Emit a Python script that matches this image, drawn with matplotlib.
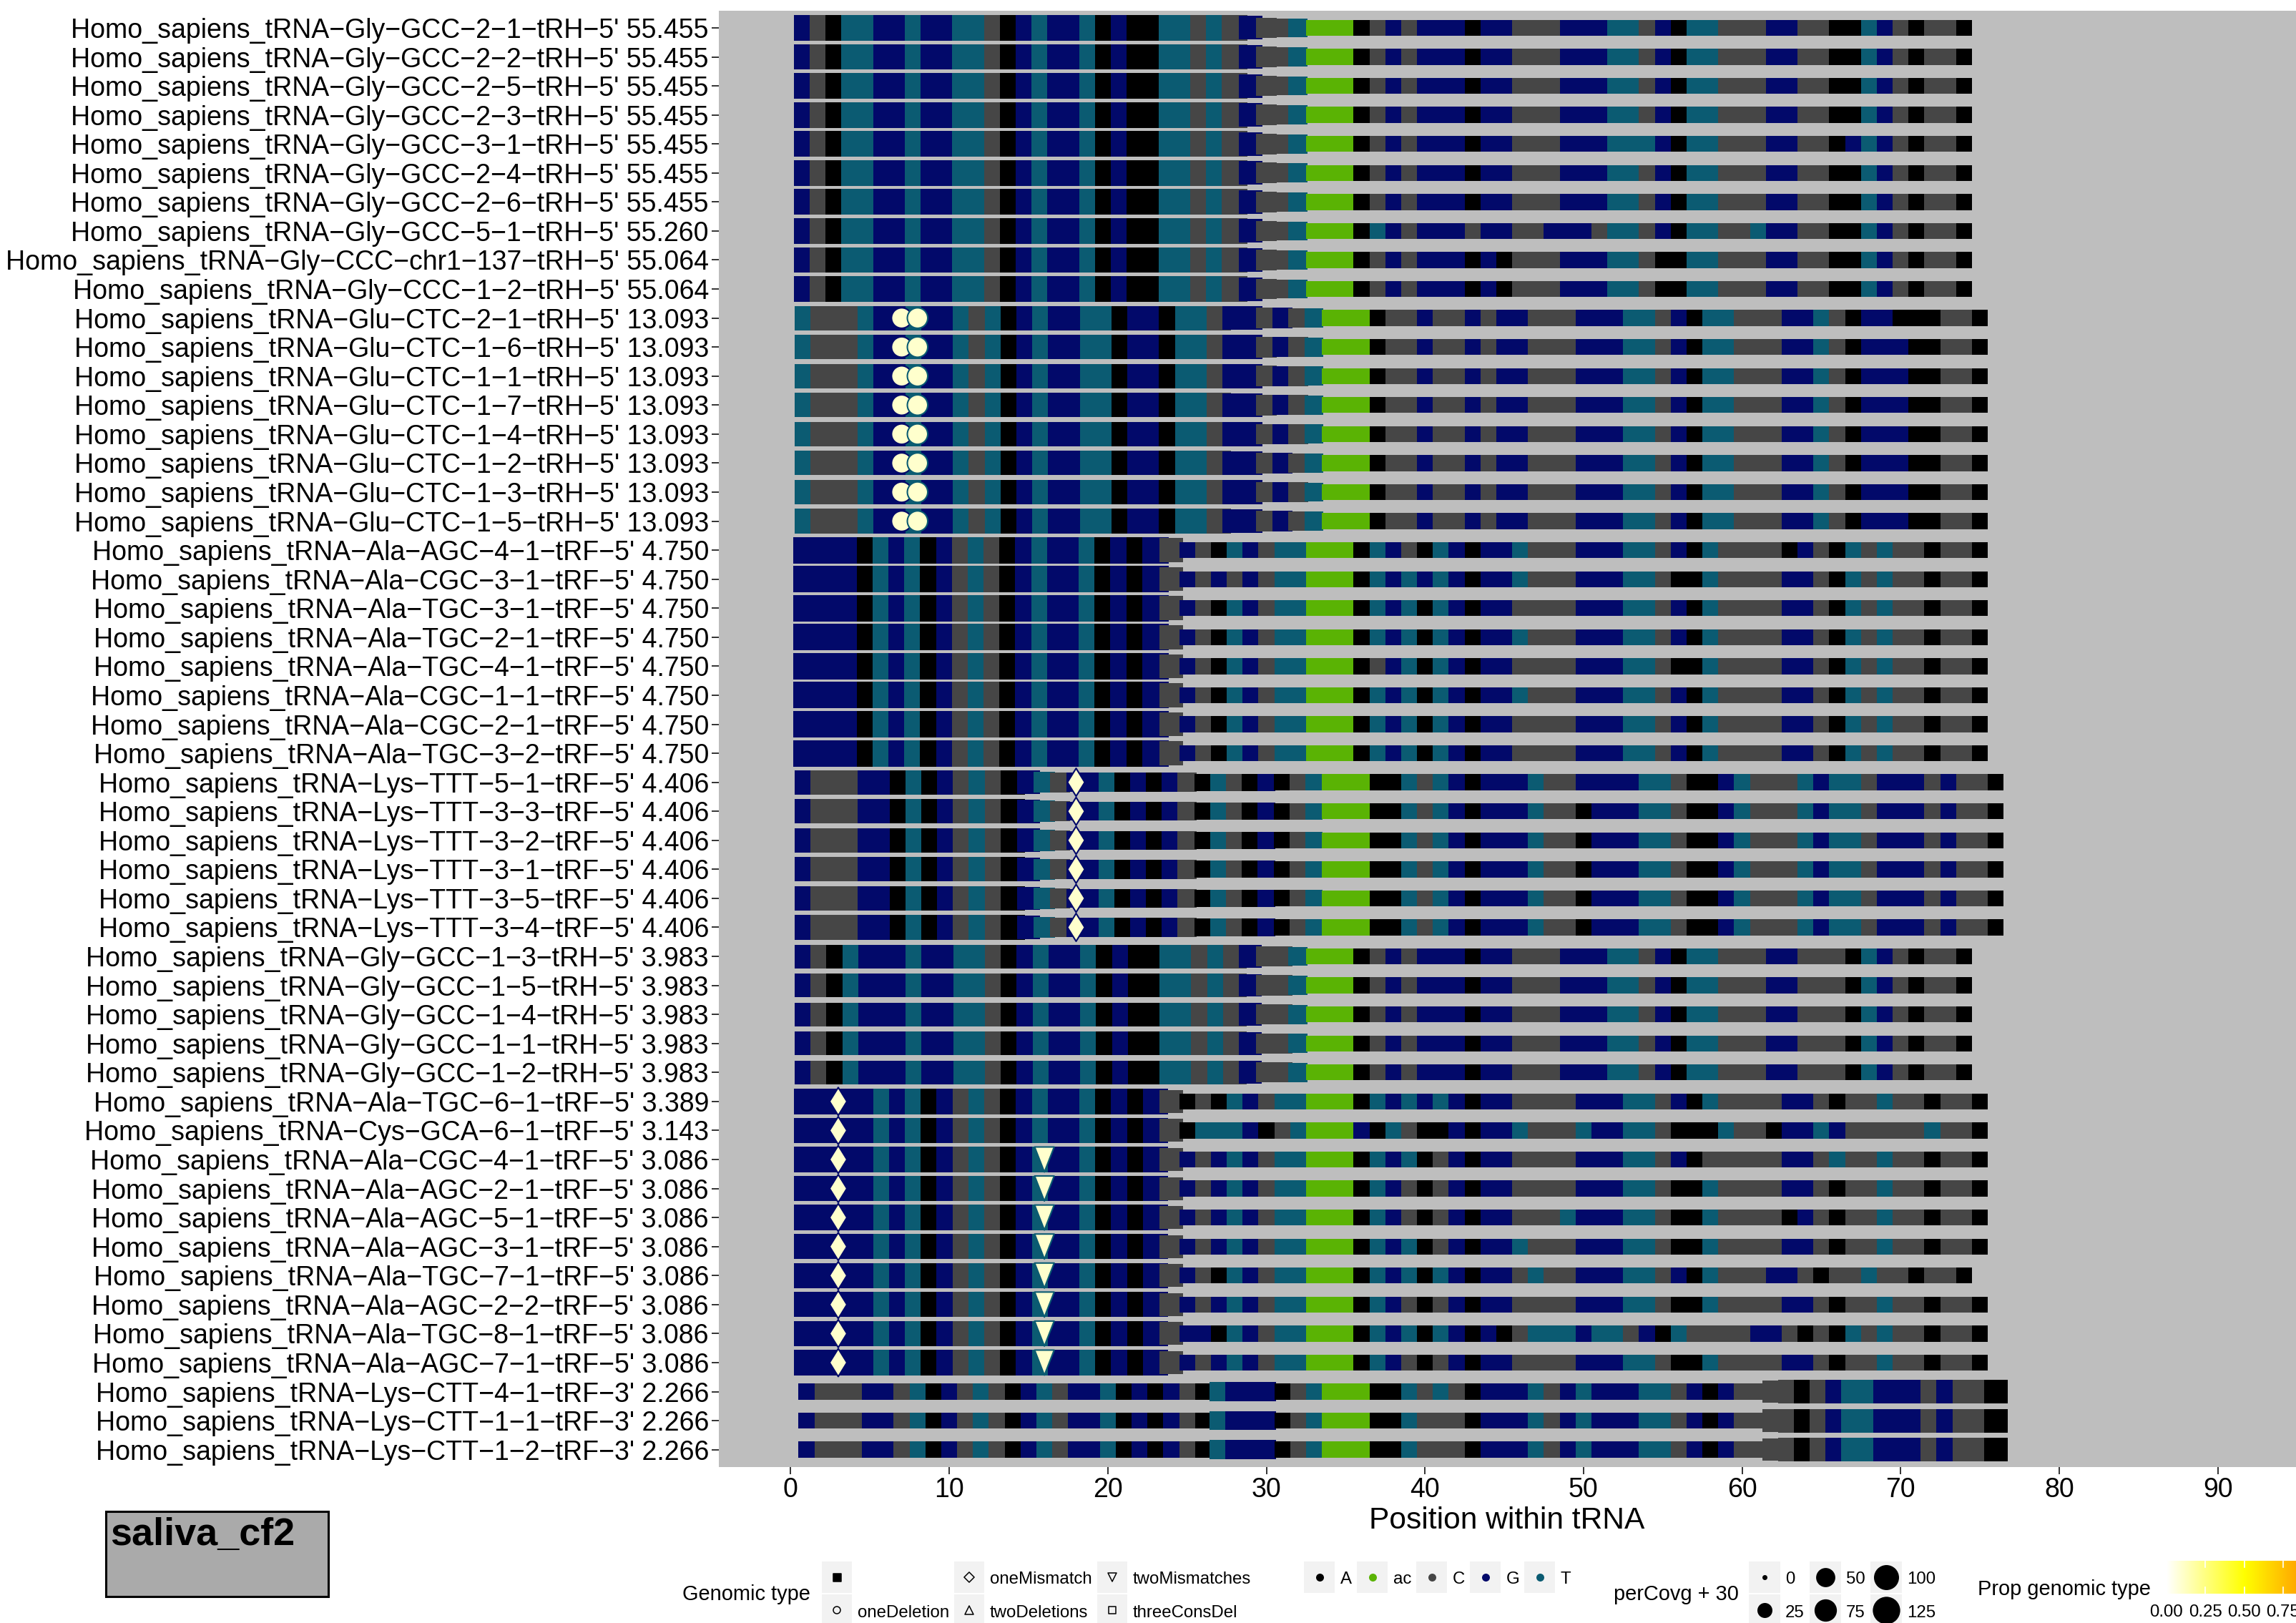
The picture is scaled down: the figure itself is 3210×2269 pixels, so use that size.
import numpy as np
import matplotlib.pyplot as plt
from matplotlib.path import Path
from matplotlib.patches import Rectangle
from matplotlib.colors import LinearSegmentedColormap

plt.rcParams['font.family'] = ['Liberation Sans', 'DejaVu Sans']

W, H, DPI = 3210, 2269, 100
PT = 72.0 / DPI  # points per pixel

# ============================================================
# DATA
# ============================================================
trna_names = [
    "Gly-GCC-2-1", "Gly-GCC-2-2", "Gly-GCC-2-5", "Gly-GCC-2-3", "Gly-GCC-3-1",
    "Gly-GCC-2-4", "Gly-GCC-2-6", "Gly-GCC-5-1", "Gly-CCC-chr1-137", "Gly-CCC-1-2",
    "Glu-CTC-2-1", "Glu-CTC-1-6", "Glu-CTC-1-1", "Glu-CTC-1-7", "Glu-CTC-1-4",
    "Glu-CTC-1-2", "Glu-CTC-1-3", "Glu-CTC-1-5",
    "Ala-AGC-4-1", "Ala-CGC-3-1", "Ala-TGC-3-1", "Ala-TGC-2-1", "Ala-TGC-4-1",
    "Ala-CGC-1-1", "Ala-CGC-2-1", "Ala-TGC-3-2",
    "Lys-TTT-5-1", "Lys-TTT-3-3", "Lys-TTT-3-2", "Lys-TTT-3-1", "Lys-TTT-3-5", "Lys-TTT-3-4",
    "Gly-GCC-1-3", "Gly-GCC-1-5", "Gly-GCC-1-4", "Gly-GCC-1-1", "Gly-GCC-1-2",
    "Ala-TGC-6-1", "Cys-GCA-6-1",
    "Ala-CGC-4-1", "Ala-AGC-2-1", "Ala-AGC-5-1", "Ala-AGC-3-1", "Ala-TGC-7-1",
    "Ala-AGC-2-2", "Ala-TGC-8-1", "Ala-AGC-7-1",
    "Lys-CTT-4-1", "Lys-CTT-1-1", "Lys-CTT-1-2",
]
frag_types = (["tRH-5'"] * 18 + ["tRF-5'"] * 14 + ["tRH-5'"] * 5
              + ["tRF-5'"] * 10 + ["tRF-3'"] * 3)
scores = (["55.455"] * 7 + ["55.260"] + ["55.064"] * 2 + ["13.093"] * 8
          + ["4.750"] * 8 + ["4.406"] * 6 + ["3.983"] * 5 + ["3.389", "3.143"]
          + ["3.086"] * 8 + ["2.266"] * 3)

# sequences (lower case = anticodon)
SEQ_GLY_GCC2 = "GCATTGGTGGTTCAGTGGTAGAATTCTCGCCTgccACGCGGGAGGCCCGGGTTCGATTCCCGGCCAATGCACCA"
SEQ_GLY_GCC3 = "GCATTGGTGGTTCAGTGGTAGAATTCTCGCCTgccACGCGGGAGGCCCGGGTTTGATTCCCGGCCAGTGCACCA"
SEQ_GLY_GCC5 = "GCATTGGTGGTTCAGTGGTAGAATTCTCGCCTgccATGCGGGCGGCCGGGCTTCGATTCCTGGCCAATGCACCA"
SEQ_GLY_CCC = "GCATTGGTGGTTCAGTGGTAGAATTCTCGCCTcccACGCGGGAGACCCGGGTTCAATTCCCGGCCAATGCACCA"
SEQ_GLU_21 = "TCCCTGGTGGTCTAGTGGTTAGGATTCGGCGCTctcACCGCCGCGGCCCGGGTTCGATTCCCGGTCAGGAAACCA"
SEQ_GLU = "TCCCTGGTGGTCTAGTGGTTAGGATTCGGCGCTctcACCGCCGCGGCCCGGGTTCGATTCCCGGTCAGGGAACCA"

SEQ_ALA_AGC4 = "GGGGATGTAGCTCAGTGGTAGAGC" "GCATGCTT" "agc" "ATGCATGAGG" "TCCCGGGTTC" "GATCCCCAGC" "ATCTCCACCA"
SEQ_ALA_CGC3 = "GGGGATGTAGCTCAGTGGTAGAGC" "GCGCGCTT" "cgc" "ATGTGTGAGG" "TCCCGGGTTC" "AATCCCCGGC" "ATCTCCACCA"
SEQ_ALA_TGC3 = "GGGGATGTAGCTCAGTGGTAGAGC" "GCATGCTT" "tgc" "ATGTATGAGG" "CCCCGGGTTC" "GATCCCCGGC" "ATCTCCACCA"
SEQ_ALA_TGC2 = "GGGGATGTAGCTCAGTGGTAGAGC" "GCATGCTT" "tgc" "ATGTATGAGG" "TCCCGGGTTC" "GATCCCCGGC" "ATCTCCACCA"
SEQ_ALA_TGC4 = "GGGGATGTAGCTCAGTGGTAGAGC" "GCATGCTT" "tgc" "ACGTATGAGG" "CCCCGGGTTC" "AATCCCCGGC" "ATCTCCACCA"
SEQ_ALA_CGC1 = "GGGGATGTAGCTCAGTGGTAGAGC" "GCATGCTT" "cgc" "ATGTATGAGG" "TCCCGGGTTC" "GATCCCCGGC" "ATCTCCACCA"
SEQ_ALA_CGC2 = "GGGGATGTAGCTCAGTGGTAGAGC" "GCATGCTT" "cgc" "ATGTATGAGG" "CCCCGGGTTC" "GATCCCCGGC" "ATCTCCACCA"

SEQ_LYS_TTT5 = "GCCCGGATAGCTCAGTCGGTAGAGCATCAG" "ACT" "ttt" "AATCTGAGGG" "TCCGGGGTTC" "AAGTCCCTGT" "TCGGGCGCCA"
SEQ_LYS_TTT = "GCCCGGATAGCTCAGTCGGTAGAGCATCAG" "ACT" "ttt" "AATCTGAGGG" "TCCAGGGTTC" "AAGTCCCTGT" "TCGGGCGCCA"

SEQ_GLY_GCC1 = "GCATGGGTGGTTCAGTGGTAGAATTCTCGCCTgccACGCGGGAGGCCCGGGTTCGATTCCCGGCCCATGCACCA"

SEQ_ALA_TGC6 = "GGGGGTGTAGCTCAGTGGTAGAGC" "ACATGCTT" "tgc" "ATGTGTGAGG" "CCCCGGGTTC" "GATCCCCGGC" "ACCTCCACCA"
SEQ_CYS_GCA6 = "GGGGGTGTAGCTCAGTGGTAGAGC" "ATTTGACT" "gca" "GATCAAGAGG" "TCCCTGGTTC" "AAATCCAGGT" "GCCCCCTCCA"
SEQ_ALA_CGC4 = "GGGGGTGTAGCTCAGTGGTAGAGC" "GCGTGCTT" "cgc" "ATGTACGAGG" "CCCCGGGTTC" "GACCCCCGGC" "TCCTCCACCA"
SEQ_ALA_AGC2 = "GGGGGTGTAGCTCAGTGGTAGAGC" "GCGTGCTT" "agc" "ATGCACGAGG" "CCCCGGGTTC" "AATCCCCGGC" "ACCTCCACCA"
SEQ_ALA_AGC5 = "GGGGGTGTAGCTCAGTGGTAGAGC" "GCGTGCTT" "agc" "ATGCACGAGG" "CCCTGGGTTC" "AATCCCCAGC" "ACCTCCACCA"
SEQ_ALA_AGC3 = "GGGGGTGTAGCTCAGTGGTAGAGC" "GCGTGCTT" "agc" "ATGTACGAGG" "TCCCGGGTTC" "AATCCCCGGC" "ACCTCCACCA"
SEQ_ALA_TGC7 = "GGGGGTGTAGCTCAGTGGTAGAGC" "GCATGCTT" "tgc" "ATGTATGAGG" "CTCCGGGTTC" "GATCCCGGCA" "CCTCCACCA"
SEQ_ALA_TGC8 = "GGGGGTGTAGCTCAGTGGTAGAGC" "GGATGCTT" "tgc" "ATGTATGAGA" "CTTTGTTCGA" "TCCCCGGCAC" "ATCTCCACCA"

SEQ_LYS_CTT4 = "GCCCGGCTAGCTCAGTCGGTAGAGCATGGG" "ACT" "ctt" "AATCTCAGGG" "TCGTGGGTTC" "GAGCCCCACG" "TTGGGCGCCA"
SEQ_LYS_CTT1 = "GCCCGGCTAGCTCAGTCGGTAGAGCATGGG" "ACT" "ctt" "AATCCCAGGG" "TCGTGGGTTC" "GAGCCCCACG" "TTGGGCGCCA"

row_seqs = ([SEQ_GLY_GCC2] * 4 + [SEQ_GLY_GCC3] + [SEQ_GLY_GCC2] * 2 + [SEQ_GLY_GCC5]
            + [SEQ_GLY_CCC] * 2
            + [SEQ_GLU_21] + [SEQ_GLU] * 7
            + [SEQ_ALA_AGC4, SEQ_ALA_CGC3, SEQ_ALA_TGC3, SEQ_ALA_TGC2, SEQ_ALA_TGC4,
               SEQ_ALA_CGC1, SEQ_ALA_CGC2, SEQ_ALA_TGC3]
            + [SEQ_LYS_TTT5] + [SEQ_LYS_TTT] * 5
            + [SEQ_GLY_GCC1] * 5
            + [SEQ_ALA_TGC6, SEQ_CYS_GCA6, SEQ_ALA_CGC4, SEQ_ALA_AGC2, SEQ_ALA_AGC5,
               SEQ_ALA_AGC3, SEQ_ALA_TGC7, SEQ_ALA_AGC2, SEQ_ALA_TGC8, SEQ_ALA_AGC2]
            + [SEQ_LYS_CTT4, SEQ_LYS_CTT1, SEQ_LYS_CTT1])

# per-position coverage (perCovg), read from tile heights
COV_GLY2 = [76] * 28 + [56, 30, 20, 20] + [0] * 42
COV_GLU = [64] * 27 + [60, 60, 30, 28, 25, 20] + [0] * 42
COV_ALA = [85] * 23 + [60] + [0] * 51
COV_LYS_TTT = [64] * 14 + [55, 35, 25] + [18] * 8 + [8] * 5 + [3] * 3 + [0] * 43
COV_GLY1 = [56] * 28 + [48, 28, 28, 20] + [0] * 42
COV_ALA_MM = [72] * 23 + [50] + [0] * 51
COV_LYS_CTT = [0] * 26 + [20] * 4 + [0] * 31 + [45] + [56] * 14

row_covs = ([COV_GLY2] * 10 + [COV_GLU] * 8 + [COV_ALA] * 8 + [COV_LYS_TTT] * 6
            + [COV_GLY1] * 5 + [COV_ALA_MM] * 10 + [COV_LYS_CTT] * 3)

# non-genomic reads: (row, position, type, proportion)
mark_rows = [11, 11, 12, 12, 13, 13, 14, 14, 15, 15, 16, 16, 17, 17, 18, 18,
             27, 28, 29, 30, 31, 32,
             38, 39, 40, 41, 42, 43, 44, 45, 46, 47,
             40, 41, 42, 43, 44, 45, 46, 47]
mark_pos = [7, 8] * 8 + [18] * 6 + [3] * 10 + [16] * 8
mark_type = (["oneDeletion"] * 16 + ["oneMismatch"] * 6 + ["oneMismatch"] * 10
             + ["twoMismatches"] * 8)
mark_prop = [0.10] * 16 + [0.10] * 6 + [0.10] * 10 + [0.10] * 8

nuc_keys = ["A", "ac", "C", "G", "T"]
NUC_COLORS = {"A": "#000000", "ac": "#5AB304", "C": "#464646",
              "G": "#02096A", "T": "#0B5B72"}
size_breaks = [0, 25, 50, 75, 100, 125]
prop_breaks = [0.0, 0.25, 0.5, 0.75, 1.0]

# ============================================================
# SCALES
# ============================================================
def side_px(v):
    # size scale for perCovg + 30
    return 2.8 * np.sqrt(v) + 7.0

prop_cmap = LinearSegmentedColormap.from_list(
    "prop", ["#FFFFFF", "#FFFF00", "#FF7F00"])

DIAMOND = Path([(0, 1), (0.62, 0), (0, -1), (-0.62, 0), (0, 1)], closed=True)
TRI_DOWN = Path([(-0.78, 1), (0.78, 1), (0, -1), (-0.78, 1)], closed=True)
mark_style = {
    "oneDeletion": ("o", 28.5),
    "oneMismatch": (DIAMOND, 39.0),
    "twoMismatches": (TRI_DOWN, 35.0),
}

# ============================================================
# FIGURE
# ============================================================
fig = plt.figure(figsize=(W / DPI, H / DPI), dpi=DPI)
fig.patch.set_facecolor("white")

ax_left, ax_top, ax_bot = 1005, 14.6, 2051
ax = fig.add_axes([ax_left / W, 1 - ax_bot / H, (W - ax_left) / W,
                   (ax_bot - ax_top) / H])
ax.set_facecolor("#BEBEBE")

xs, ys, cs, ss = [], [], [], []
for r, (seq, cov) in enumerate(zip(row_seqs, row_covs), start=1):
    for i, ch in enumerate(seq):
        xs.append(i + 1)
        ys.append(r)
        cs.append(NUC_COLORS["ac" if ch.islower() else ch])
        ss.append((side_px(cov[i] + 30) * PT) ** 2)
ax.scatter(xs, ys, s=ss, c=cs, marker="s", linewidths=0, zorder=2)

for kind, (mk, size) in mark_style.items():
    idx = [k for k, t in enumerate(mark_type) if t == kind]
    if not idx:
        continue
    mx = [mark_pos[k] for k in idx]
    my = [mark_rows[k] for k in idx]
    fc = [prop_cmap(mark_prop[k]) for k in idx]
    ec = []
    for k in idx:
        ch = row_seqs[mark_rows[k] - 1][mark_pos[k] - 1]
        ec.append(NUC_COLORS["ac" if ch.islower() else ch])
    ax.scatter(mx, my, s=(size * PT) ** 2, marker=mk, facecolors=fc,
               edgecolors=ec, linewidths=1.5, zorder=3)

ax.set_xlim(-4.53, 94.93)
ax.set_ylim(50.6, 0.4)
ax.set_xticks(np.arange(0, 100, 10))
ax.set_yticks(np.arange(1, len(trna_names) + 1))
ylabels = [("Homo_sapiens_tRNA-" + n + "-" + f).replace("-", "\u2212") + " " + s
           for n, f, s in zip(trna_names, frag_types, scores)]
ax.set_yticklabels(ylabels)
for sp in ax.spines.values():
    sp.set_visible(False)
ax.tick_params(axis="both", length=7.2, width=1.4, color="#333333",
               labelsize=27, labelcolor="black", pad=2.9)

# ============================================================
# OVERLAY (axis title, legends, sample box)
# ============================================================
lax = fig.add_axes([0, 0, 1, 1], zorder=5)
lax.set_xlim(0, W)
lax.set_ylim(H, 0)
lax.axis("off")
lax.patch.set_alpha(0)

lax.text(2107, 2137, "Position within tRNA", ha="center", va="baseline",
         fontsize=30.6)

LEG_FS = 17.3
TITLE_FS = 20.9
KEY_BG = "#F2F2F2"
row_y = [2183, 2229]
row_c = [2205, 2251]
row_base = [2214, 2261]

# --- Genomic type
lax.text(954, 2237, "Genomic type", fontsize=TITLE_FS, va="baseline")
gt_cols = [1149, 1334, 1534]
gt_keys = [("s", 11, True, ""), ("o", 10, False, "oneDeletion"),
           ("D", 10, False, "oneMismatch"), ("^", 12, False, "twoDeletions"),
           ("v", 12, False, "twoMismatches"), ("s", 10, False, "threeConsDel")]
for j, (mk, sz, filled, lab) in enumerate(gt_keys):
    col, row = j // 2, j % 2
    x0 = gt_cols[col]
    lax.add_patch(Rectangle((x0, row_y[row]), 42, 44, fc=KEY_BG, ec="none"))
    lax.scatter([x0 + 21], [row_c[row]], s=(sz * PT) ** 2, marker=mk,
                facecolors="black" if filled else "none", edgecolors="black",
                linewidths=1.1)
    if lab:
        lax.text(x0 + 50, row_base[row], lab, fontsize=LEG_FS, va="baseline")

# --- nucleotide
nuc_x = [1823, 1897, 1980, 2055, 2131]
for x0, key in zip(nuc_x, nuc_keys):
    lax.add_patch(Rectangle((x0, row_y[0]), 43, 44, fc=KEY_BG, ec="none"))
    lax.scatter([x0 + 21.5], [row_c[0]], s=(11 * PT) ** 2, marker="o",
                color=NUC_COLORS[key], linewidths=0)
    lax.text(x0 + 51, row_base[0], key, fontsize=LEG_FS, va="baseline")

# --- perCovg + 30
lax.text(2256, 2237, "perCovg + 30", fontsize=TITLE_FS, va="baseline")
pc_cols = [2445, 2530, 2615]
for j, v in enumerate(size_breaks):
    col, row = j // 2, j % 2
    x0 = pc_cols[col]
    lax.add_patch(Rectangle((x0, row_y[row]), 44, 44, fc=KEY_BG, ec="none"))
    lax.scatter([x0 + 22], [row_c[row]], s=(side_px(v) * PT) ** 2, marker="o",
                color="black", linewidths=0)
    lax.text(x0 + 51, row_base[row], str(v), fontsize=LEG_FS, va="baseline")

# --- Prop genomic type
lax.text(2765, 2230, "Prop genomic type", fontsize=TITLE_FS, va="baseline")
cb_x0, cb_w = 3029, 217
cax = fig.add_axes([cb_x0 / W, 1 - 2228 / H, cb_w / W, 46 / H], zorder=6)
cax.imshow(np.linspace(0, 1, 256)[None, :], cmap=prop_cmap, aspect="auto",
           extent=(0, 1, 0, 1), vmin=0, vmax=1)
for v in prop_breaks:
    cax.plot([v, v], [0, 0.2], color="white", lw=1.2)
    cax.plot([v, v], [0.8, 1], color="white", lw=1.2)
cax.set_xlim(0, 1)
cax.set_ylim(0, 1)
cax.axis("off")
for v in prop_breaks:
    lax.text(cb_x0 + cb_w * v, 2260, "%.2f" % v, fontsize=LEG_FS,
             ha="center", va="baseline")

# --- sample label box
lax.add_patch(Rectangle((148, 2113), 311, 119, fc="#AAAAAA", ec="black", lw=2.2))
lax.text(154, 2121, "saliva_cf2", fontsize=38.9, fontweight="bold",
         ha="left", va="top")

fig.savefig("out.png", dpi=DPI)
